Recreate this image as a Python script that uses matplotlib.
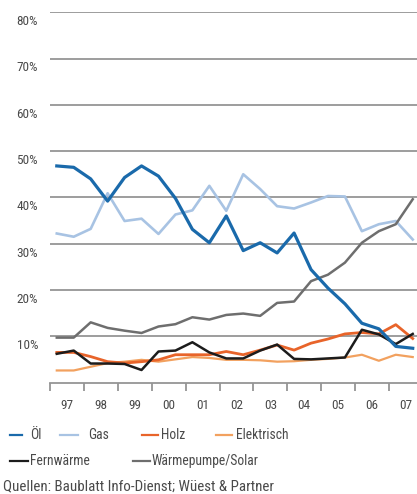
import matplotlib
matplotlib.use("Agg")
import matplotlib.pyplot as plt
from matplotlib import font_manager
from matplotlib.lines import Line2D
import numpy as np

# ---- data (half-year points, 1997 - 2007) ----
years = ["97", "98", "99", "00", "01", "02", "03", "04", "05", "06", "07"]
oel = [46.8, 46.5, 44.0, 39.2, 44.3, 46.8, 44.6, 39.8, 33.1, 30.2, 36.0,
       28.5, 30.2, 28.0, 32.3, 24.4, 20.4, 17.0, 12.8, 11.6, 7.8, 7.4]
gas = [32.2, 31.5, 33.2, 40.9, 34.9, 35.4, 32.1, 36.3, 37.2, 42.5, 37.1,
       45.0, 41.8, 38.1, 37.6, 38.9, 40.3, 40.2, 32.7, 34.2, 34.9, 30.9]
holz = [6.5, 6.5, 5.6, 4.5, 4.2, 4.5, 4.9, 6.0, 6.0, 6.0, 6.7,
        6.0, 7.0, 8.1, 7.0, 8.5, 9.4, 10.5, 10.8, 10.5, 12.5, 9.5]
elektrisch = [2.6, 2.6, 3.4, 4.2, 4.5, 4.9, 4.5, 5.0, 5.5, 5.3, 4.9,
              4.9, 4.8, 4.5, 4.6, 4.9, 5.1, 5.4, 6.0, 4.7, 6.0, 5.5]
fernwaerme = [6.2, 6.9, 4.1, 4.1, 4.0, 2.7, 6.7, 6.9, 8.7, 6.5, 5.2,
              5.2, 6.9, 8.2, 5.1, 5.0, 5.2, 5.4, 11.4, 10.4, 8.3, 10.5]
wp_solar = [9.7, 9.7, 13.0, 11.8, 11.2, 10.7, 12.1, 12.6, 14.1, 13.6, 14.6,
            14.9, 14.4, 17.2, 17.5, 21.9, 23.3, 25.9, 30.2, 32.7, 34.2, 39.6]
y_ticks = [10, 20, 30, 40, 50, 60, 70, 80]
source = "Quellen: Baublatt Info-Dienst; Wüest & Partner"

# ---- fonts ----
def pick(names):
    for n in names:
        try:
            font_manager.findfont(font_manager.FontProperties(family=n), fallback_to_default=False)
            return n
        except Exception:
            pass
    return "DejaVu Sans"

FONT = pick(["Liberation Sans Narrow", "Roboto Condensed", "Liberation Sans", "DejaVu Sans"])
plt.rcParams["font.family"] = [FONT, "DejaVu Sans"]

TXT = "#4a4a4a"
GRID = "#959595"

W, H = 417, 494
fig = plt.figure(figsize=(W / 100, H / 100), dpi=100)
fig.patch.set_facecolor("white")

left_px, right_px, top_px, bottom_px = 50, 417, 12.3, 382.5
ax = fig.add_axes([left_px / W, 1 - bottom_px / H,
                   (right_px - left_px) / W, (bottom_px - top_px) / H])

x = 1997.2 + 0.5 * np.arange(len(oel))

for yv in y_ticks:
    ax.axhline(yv, color=GRID, lw=1.3, zorder=1)

series = [
    (gas, "#a8c3e3", 1.9, "Gas"),
    (elektrisch, "#f2a15f", 1.6, "Elektrisch"),
    (holz, "#e8642a", 2.0, "Holz"),
    (fernwaerme, "#1c1c1c", 1.8, "Fernwärme"),
    (wp_solar, "#6e6e6e", 1.8, "Wärmepumpe/Solar"),
    (oel, "#1a6aab", 2.3, "Öl"),
]
for vals, col, lw, name in series:
    ax.plot(x, vals, color=col, lw=lw, zorder=3, solid_joinstyle="round")

ax.set_ylim(0, 80)
x_right = 1997 + (right_px - left_px) / 33.9
ax.set_xlim(1997, x_right)

for s in ["top", "right", "left"]:
    ax.spines[s].set_visible(False)
ax.spines["bottom"].set_color(GRID)
ax.spines["bottom"].set_linewidth(1.3)

ax.set_yticks([])
ax.set_xticks(np.arange(1997, 2008))
ax.set_xticklabels([])
ax.tick_params(axis="x", which="major", length=6, width=1.3, color=GRID, direction="out")
ax.set_xticks(np.arange(1997.5, 2008.0, 1.0), minor=True)
ax.set_xticklabels(years, minor=True)
ax.tick_params(axis="x", which="minor", length=0, pad=12, labelsize=9.5, labelcolor=TXT)

# y labels placed slightly below each gridline
for yv in y_ticks:
    py = bottom_px - (bottom_px - top_px) * yv / 80 + 9.4
    fig.text(38 / W, 1 - py / H, f"{yv}%", ha="right", va="center",
             fontsize=9.5, color=TXT)

# ---- legend drawn manually ----
cols = {name: (col, lw) for vals, col, lw, name in series}
rows = [
    (435, [("Öl", 10, 22, 30), ("Gas", 60, 78, 88), ("Holz", 142, 158, 161), ("Elektrisch", 216, 232, 236)]),
    (461, [("Fernwärme", 10, 28, 30), ("Wärmepumpe/Solar", 133, 150, 152)]),
]
for py, items in rows:
    for name, x0, x1, tx in items:
        col, lw = cols[name]
        fig.add_artist(Line2D([x0 / W, x1 / W], [1 - py / H, 1 - py / H],
                              color=col, lw=1.6, transform=fig.transFigure))
        fig.text(tx / W, 1 - py / H, name, ha="left", va="center",
                 fontsize=9.8, color=TXT)

fig.text(3 / W, 1 - 486 / H, source, ha="left", va="center", fontsize=10.8, color=TXT)

fig.savefig("out.png", dpi=100, facecolor="white")
